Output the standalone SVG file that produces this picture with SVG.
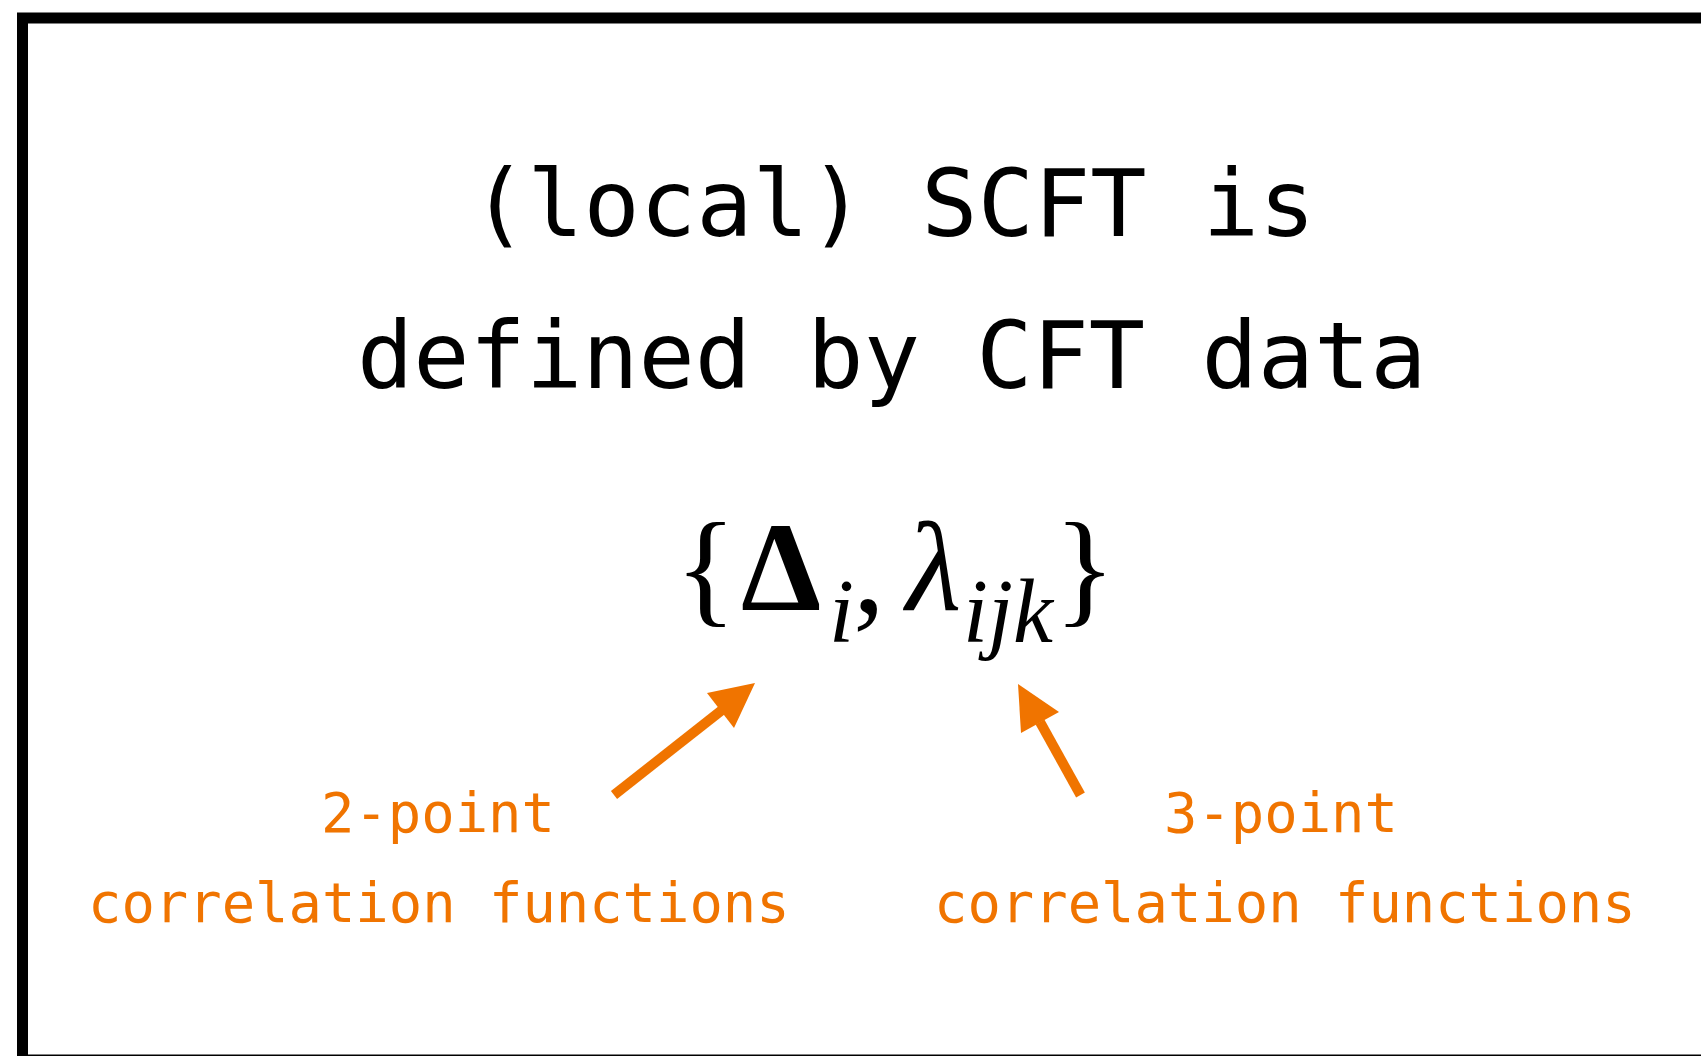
<svg xmlns="http://www.w3.org/2000/svg" width="1701" height="1056" viewBox="0 0 1701 1056">
  <style>
    .title { font-family: "DejaVu Sans Mono", "Liberation Mono", monospace; font-size: 93.5px; fill: #000; }
    .label { font-family: "DejaVu Sans Mono", "Liberation Mono", monospace; font-size: 55.5px; fill: #F07400; }
    .math { font-family: "Liberation Serif", "DejaVu Serif", serif; font-size: 128px; fill: #000; }
    .mathi { font-family: "Liberation Serif", "DejaVu Serif", serif; font-style: italic; fill: #000; }
    .shaft { stroke: #F07400; stroke-width: 10; fill: none; }
    .head { fill: #F07400; }
  </style>
  <rect x="0" y="0" width="1701" height="1056" fill="#fff"/>
  <rect id="frame" x="22.5" y="18" width="1700" height="1042" fill="none" stroke="#000" stroke-width="11"/>

  <g id="title">
    <text class="title" x="471" y="236">(local) SCFT is</text>
    <text class="title" x="357" y="388">defined by CFT data</text>
  </g>

  <g id="formula">
    <text class="math" x="675" y="610">{</text>
    <text class="math" x="741" y="610" font-weight="bold">Δ</text>
    <text class="mathi" x="829" y="642" font-size="90">i</text>
    <text class="math" x="853" y="612">,</text>
    <text class="mathi" x="906" y="610" font-size="128">λ</text>
    <text class="mathi" x="963" y="642" font-size="90">ijk</text>
    <text class="math" x="1054" y="610">}</text>
  </g>

  <g id="label-2point">
    <text class="label" x="321" y="832">2-point</text>
    <text class="label" x="88" y="922">correlation functions</text>
  </g>

  <g id="label-3point">
    <text class="label" x="1164" y="832">3-point</text>
    <text class="label" x="934" y="922">correlation functions</text>
  </g>

  <g id="connectors">
    <line class="shaft" x1="614" y1="795" x2="722" y2="710"/>
    <polygon class="head" points="755,683 707,693 734,728"/>
    <line class="shaft" x1="1080.5" y1="795" x2="1040" y2="722"/>
    <polygon class="head" points="1018,684 1059,712 1021,733"/>
  </g>
</svg>
